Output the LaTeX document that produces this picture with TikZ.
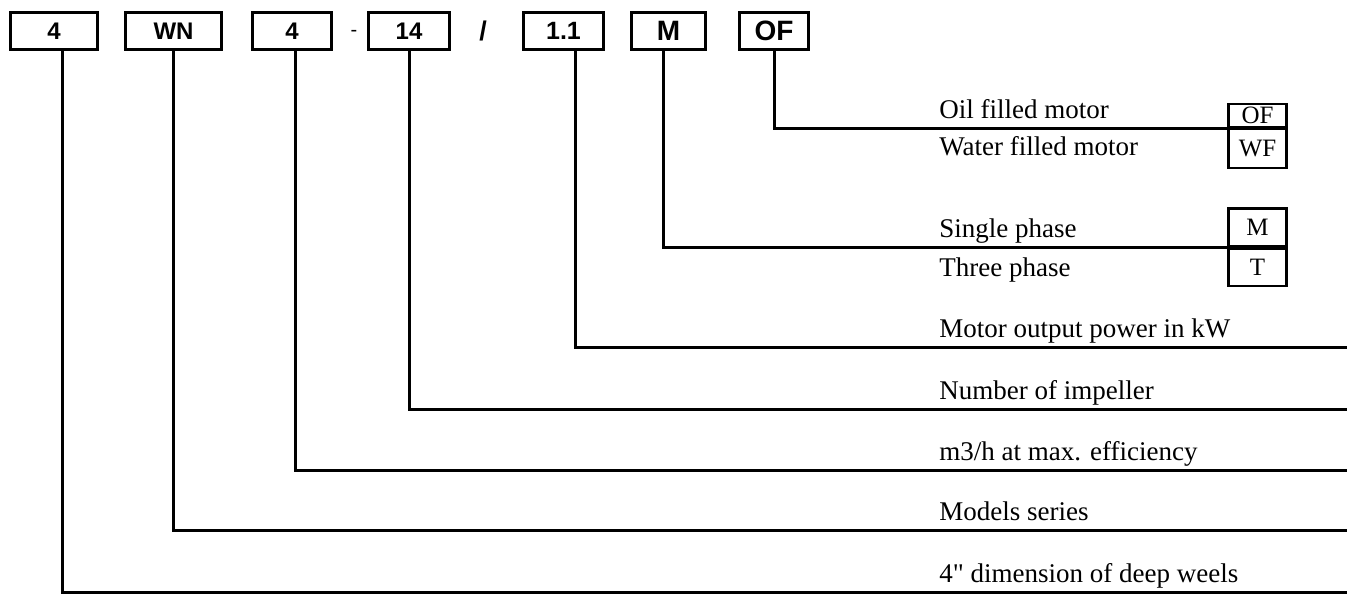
\documentclass[tikz,border=0pt]{standalone}
\usepackage{fontspec}
\setmainfont{Liberation Serif}[Ligatures=TeXOff]
\setsansfont{Liberation Sans}
\usetikzlibrary{positioning}
\tikzstyle{codebox}=[draw,line width=1.5pt,inner sep=0pt,minimum height=18.5pt,font=\sffamily\bfseries\fontsize{12}{14}\selectfont]
\tikzstyle{cell}=[draw,line width=1.25pt,inner sep=0pt,minimum width=29pt,font=\fontsize{12.5}{15}\selectfont]
\tikzstyle{desc}=[anchor=base west,inner sep=0pt,font=\fontsize{13.5}{16}\selectfont]
\tikzstyle{lead}=[line width=1.5pt]

\begin{document}
\begin{tikzpicture}[x=0.5pt,y=-0.5pt]
\useasboundingbox (0,0) rectangle (1359,595);
%\draw[step=100,gray,very thin] (0,0) grid (1359,595);
\node[codebox,minimum width=43.5pt] (c1) at (54,31){4};
\node[codebox,minimum width=48pt] (c2) at (173.5,31){WN};
\node[codebox,minimum width=39.5pt] (c3) at (292,31){4};
\node[font=\sffamily\fontsize{10}{12}\selectfont] (dash) at (354,33){-};
\node[codebox,minimum width=40.5pt] (c4) at (409,31){14};
\node[font=\sffamily\bfseries\fontsize{13.5}{15}\selectfont] (slash) at (483,31){/};
\node[codebox,minimum width=40pt,font=\sffamily\bfseries\fontsize{12.5}{14}\selectfont] (c5) at (563.5,31){1.1};
\node[codebox,minimum width=37pt,font=\sffamily\bfseries\fontsize{14}{16}\selectfont] (c6) at (668.5,31){M};
\node[codebox,minimum width=34.5pt,font=\sffamily\bfseries\fontsize{14}{16}\selectfont] (c7) at (774,31){OF};

% motor filling
\node[cell,minimum height=11.5pt] (of) at (1257.5,115.5){OF};
\node[cell,minimum height=19.5pt] (wf) at (1257.5,148.5){WF};
\node[desc] (tof) at (939,118){Oil filled motor};
\node[desc] (twf) at (939,155){Water filled motor};
\draw[lead] (c7.south) |- (of.south west);

% phase
\node[cell,minimum height=18.75pt] (ph1) at (1257.5,227){M};
\node[cell,minimum height=18.75pt] (ph3) at (1257.5,267){T};
\node[desc] (tph1) at (939,237){Single phase};
\node[desc] (tph3) at (939,276){Three phase};
\draw[lead] ([xshift=-2.75pt]c6.south) |- (ph1.south west);

% lines to the right edge
\coordinate (e5) at (1347,347);
\coordinate (e4) at (1347,409);
\coordinate (e3) at (1347,470);
\coordinate (e2) at (1347,530);
\coordinate (e1) at (1347,592);
\node[desc] (t5) at (939,337){Motor output power in kW};
\node[desc] (t4) at (939,399){Number of impeller};
\node[desc] (t3) at (939,460){m3/h at max. efficiency};
\node[desc] (t2) at (939,520){Models series};
\node[desc] (t1) at (939,582){4" dimension of deep weels};
\draw[lead] ([xshift=5.75pt]c5.south) |- (e5);
\draw[lead] (c4.south) |- (e4);
\draw[lead] ([xshift=1.5pt]c3.south) |- (e3);
\draw[lead] (c2.south) |- (e2);
\draw[lead] ([xshift=4pt]c1.south) |- (e1);
\end{tikzpicture}
\end{document}
